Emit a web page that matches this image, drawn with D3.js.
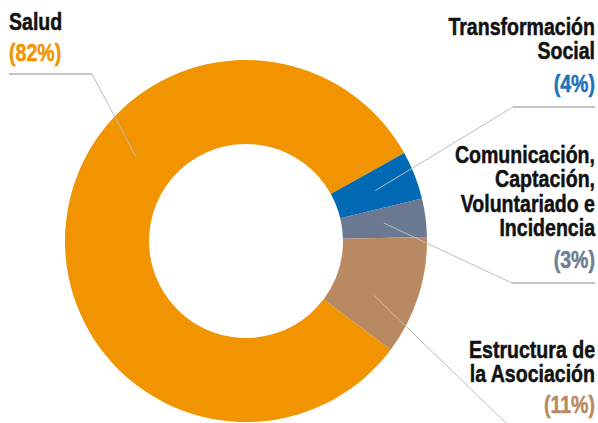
<!DOCTYPE html>
<html>
<head>
<meta charset="utf-8">
<script src="https://cdn.jsdelivr.net/npm/d3@7"></script>
<style>
  html, body { margin: 0; padding: 0; background: #fff; }
  svg { display: block; }
  .lbl { font-family: "Liberation Sans", Arial, sans-serif; font-weight: bold; font-size: 24px; stroke-width: 0.5px; }
</style>
</head>
<body>
<svg id="chart" width="598" height="423"></svg>
<script>
  // data
  const categories = ["Salud", "Transformación Social", "Comunicación, Captación, Voluntariado e Incidencia", "Estructura de la Asociación"];
  const values = [81.6, 4.3, 3.4, 10.6];
  const pctLabels = ["(82%)", "(4%)", "(3%)", "(11%)"];
  const colors = ["#f29400", "#0069b4", "#6a7891", "#b98a62"];
  const pctColors = ["#f29400", "#1f73b9", "#6e7e96", "#b98a62"];

  const svg = d3.select("#chart");
  const cx = 246, cy = 241;
  const rOuter = 181, rInner = 97;
  const a0 = 126.9 * Math.PI / 180;
  const squeeze = 0.815; // condensed look for the bold labels

  const pie = d3.pie().sort(null).value((d) => d).startAngle(a0).endAngle(a0 + 2 * Math.PI);
  const arc = d3.arc().innerRadius(rInner).outerRadius(rOuter);
  const arcs = pie(values);

  const g = svg.append("g").attr("transform", `translate(${cx},${cy})`);
  g.selectAll("path")
    .data(arcs)
    .join("path")
    .attr("d", arc)
    .attr("fill", (d, i) => colors[i]);

  // label layout (lines of text, anchor side, elbow point, line end)
  const layout = [
    { lines: ["Salud"], x: 9, y0: 30, pctY: 61, anchor: "start", anchorAngle: 307.5, elbow: [92, 74], end: [9, 74] },
    { lines: ["Transformación", "Social"], x: 595, y0: 35, pctY: 92, anchor: "end", elbow: [513, 107], end: [595, 107] },
    { lines: ["Comunicación,", "Captación,", "Voluntariado e", "Incidencia"], x: 595, y0: 163, pctY: 268, anchor: "end", elbow: [512, 283], end: [595, 283] },
    { lines: ["Estructura de", "la Asociación"], x: 595, y0: 358, pctY: 413, anchor: "end", anchorAngle: 113, elbow: [508, 425], end: [600, 425] }
  ];
  const lineH = 24.5;
  const rMid = (rInner + rOuter) / 2;

  arcs.forEach((d, i) => {
    const L = layout[i];
    let start;
    if (L.anchorAngle != null) {
      const a = L.anchorAngle * Math.PI / 180;
      start = [cx + rMid * Math.sin(a), cy - rMid * Math.cos(a)];
    } else {
      const c = arc.centroid(d);
      start = [cx + c[0], cy + c[1]];
    }
    svg.append("line")
      .attr("x1", start[0]).attr("y1", start[1])
      .attr("x2", L.elbow[0]).attr("y2", L.elbow[1])
      .attr("stroke", "#bdbdbd").attr("stroke-width", 1);
    svg.append("line")
      .attr("x1", L.elbow[0]).attr("y1", L.elbow[1])
      .attr("x2", L.end[0]).attr("y2", L.end[1])
      .attr("stroke", "#c4c4c4").attr("stroke-width", 2);

    const grp = svg.append("g").attr("transform", `translate(${L.x},0) scale(${squeeze},1)`);
    const t = grp.append("text").attr("class", "lbl").attr("text-anchor", L.anchor)
      .attr("fill", "#111").attr("stroke", "#111");
    L.lines.forEach((s, k) => {
      t.append("tspan").attr("x", 0).attr("y", L.y0 + k * lineH).text(s);
    });
    grp.append("text").attr("class", "lbl").attr("text-anchor", L.anchor)
      .attr("x", 0).attr("y", L.pctY)
      .attr("fill", pctColors[i]).attr("stroke", pctColors[i])
      .text(pctLabels[i]);
  });
</script>
</body>
</html>
